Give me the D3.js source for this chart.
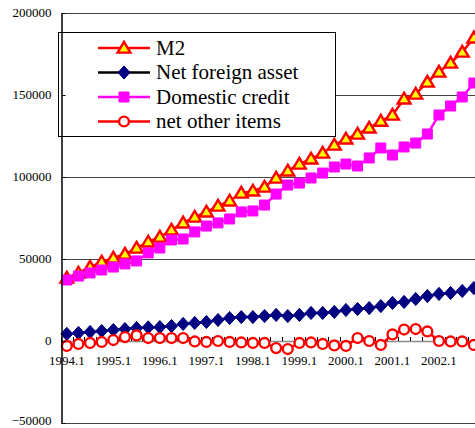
<!DOCTYPE html>
<html>
<head>
<meta charset="utf-8">
<script src="https://cdn.jsdelivr.net/npm/d3@7/dist/d3.min.js"></script>
<style>
  html, body { margin: 0; padding: 0; background: #fff; overflow: hidden; }
  svg { display: block; }
  svg text { font-family: "Liberation Serif", "DejaVu Serif", serif; }
</style>
</head>
<body>
<svg id="chart" width="475" height="428"></svg>
<script>
// Quarterly periods, 1994 Q1 to 2002 Q4
const quarters = [
  "1994.1","1994.2","1994.3","1994.4",
  "1995.1","1995.2","1995.3","1995.4",
  "1996.1","1996.2","1996.3","1996.4",
  "1997.1","1997.2","1997.3","1997.4",
  "1998.1","1998.2","1998.3","1998.4",
  "1999.1","1999.2","1999.3","1999.4",
  "2000.1","2000.2","2000.3","2000.4",
  "2001.1","2001.2","2001.3","2001.4",
  "2002.1","2002.2","2002.3","2002.4"
];

const m2 = [
  38400, 41500, 45100, 48200, 50600, 53000, 56700, 60400,
  63400, 67700, 72000, 75600, 78700, 82300, 85400, 90200,
  91500, 93900, 99400, 103700, 107900, 111000, 114600, 119500,
  123200, 126200, 129900, 134100, 137800, 147600, 150600, 157900,
  164000, 169500, 176200, 184800
];

const netForeignAsset = [
  4300, 4900, 5500, 6100, 6700, 7300, 7900, 8300,
  8500, 9100, 10400, 11000, 11600, 12800, 14000, 14600,
  14600, 15200, 15900, 15200, 15900, 17100, 17100, 17700,
  18900, 19500, 20100, 21300, 23200, 23800, 25600, 27400,
  28700, 29300, 30500, 32300
];

const domesticCredit = [
  37200, 39600, 41500, 43300, 45100, 47000, 48800, 53700,
  56700, 61600, 62200, 66500, 70100, 72000, 74400, 78700,
  79300, 82900, 89600, 95100, 96300, 99400, 102400, 106100,
  107900, 106700, 111600, 117700, 113400, 118300, 120700, 126200,
  137800, 143300, 148800, 157300
];

const netOtherItems = [
  -3000, -1800, -1200, -600, 600, 2400, 3400, 1800,
  1800, 1800, 1800, -300, -600, 0, -600, -900,
  -1200, -1200, -4300, -4900, -1200, -900, -1800, -2700,
  -3000, 1800, 0, -2400, 4000, 7000, 7300, 5800,
  0, -300, -300, -2400
];

const yTicks = [-50000, 0, 50000, 100000, 150000, 200000];
const xLabels = ["1994.1","1995.1","1996.1","1997.1","1998.1","1999.1","2000.1","2001.1","2002.1"];

const series = [
  { name: "M2", values: m2, line: "#ff0000", legendLine: "#ff0000", marker: "triangle" },
  { name: "Net foreign asset", values: netForeignAsset, line: "#000080", legendLine: "#000000", marker: "diamond" },
  { name: "Domestic credit", values: domesticCredit, line: "#ff00ff", legendLine: "#ff00ff", marker: "square" },
  { name: "net other items", values: netOtherItems, line: "#ff0000", legendLine: "#ff0000", marker: "circle" }
];

const svg = d3.select("#chart");
const plotLeft = 61, plotTop = 13, plotBottom = 423;
const step = 11.63;
const serif = "'Liberation Serif', 'DejaVu Serif', serif";

const x = d3.scaleBand().domain(quarters).range([plotLeft, plotLeft + quarters.length * step]).padding(0);
const cx = q => x(q) + x.bandwidth() / 2;
const y = d3.scaleLinear().domain([-50000, 200000]).range([plotBottom, plotTop]);

// horizontal gridlines (top one doubles as the frame)
svg.append("g").selectAll("line")
  .data(yTicks)
  .join("line")
  .attr("x1", plotLeft).attr("x2", 475)
  .attr("y1", d => Math.round(y(d)) + 0.5).attr("y2", d => Math.round(y(d)) + 0.5)
  .attr("stroke", d => d === 0 ? "#8c8c8c" : "#444")
  .attr("stroke-width", d => d === 0 ? 1.5 : 1);

// category ticks along the zero line
const boundaries = quarters.map(q => x(q));
svg.append("g").selectAll("line")
  .data(boundaries)
  .join("line")
  .attr("x1", d => Math.round(d) + 0.5).attr("x2", d => Math.round(d) + 0.5)
  .attr("y1", y(0) - 4).attr("y2", y(0))
  .attr("stroke", "#000").attr("stroke-width", 1);

// x labels on first quarters
svg.append("g").selectAll("text")
  .data(xLabels)
  .join("text")
  .attr("x", d => cx(d))
  .attr("y", y(0) + 24)
  .attr("text-anchor", "middle")
  .attr("font-size", 13)
  .style("font-family", serif)
  .text(d => d);

const markerPath = {
  triangle: "M0,-6.2L6.4,4.6L-6.4,4.6Z",
  diamond: "M0,-6.6L6,0L0,6.6L-6,0Z",
  square: "M-5,-5H5V5H-5Z",
  circle: d3.symbol().type(d3.symbolCircle).size(76)()
};

function drawMarker(g, kind, px, py) {
  const p = g.append("path").attr("d", markerPath[kind]).attr("transform", `translate(${px},${py})`);
  if (kind === "triangle") p.attr("fill", "#ffff00").attr("stroke", "#ff0000").attr("stroke-width", 2.4).attr("stroke-linejoin", "miter");
  if (kind === "diamond") p.attr("fill", "#000080").attr("stroke", "#000080").attr("stroke-width", 1);
  if (kind === "square") p.attr("fill", "#ff00ff").attr("stroke", "#ff00ff").attr("stroke-width", 1);
  if (kind === "circle") p.attr("fill", "#ffffff").attr("stroke", "#ff0000").attr("stroke-width", 2.4);
  return p;
}

const line = d3.line().x((d, i) => cx(quarters[i])).y(d => y(d));

series.forEach(s => {
  const g = svg.append("g");
  g.append("path").datum(s.values).attr("d", line)
    .attr("fill", "none").attr("stroke", s.line).attr("stroke-width", 2.5);
  s.values.forEach((v, i) => drawMarker(g, s.marker, cx(quarters[i]), y(v)));
});

// legend
const lg = svg.append("g");
lg.append("rect").attr("x", 58.5).attr("y", 32.5).attr("width", 277).attr("height", 104)
  .attr("fill", "#fff").attr("stroke", "#000").attr("stroke-width", 1);
const rowY = [48, 72.5, 97, 121.5];
series.forEach((s, i) => {
  const ry = rowY[i];
  lg.append("line").attr("x1", 98).attr("x2", 150).attr("y1", ry).attr("y2", ry)
    .attr("stroke", s.legendLine).attr("stroke-width", 2.5);
  drawMarker(lg, s.marker, 124, ry);
  lg.append("text").attr("x", 156).attr("y", ry + 6.5)
    .attr("font-size", 21).attr("fill", "#000")
    .style("font-family", serif).text(s.name);
});

// y axis on top, with short inside ticks
const yAxis = d3.axisLeft(y).tickValues(yTicks).tickSizeInner(-4).tickSizeOuter(0)
  .tickPadding(10).tickFormat(d3.format("d"));
const gy = svg.append("g").attr("transform", `translate(${plotLeft + 0.5},0)`).call(yAxis);
gy.attr("font-family", null).attr("font-size", null);
gy.select(".domain").attr("stroke", "#000").attr("stroke-width", 1.5);
gy.selectAll(".tick line").attr("stroke", "#000");
gy.selectAll("text").attr("font-size", 13).attr("fill", "#000")
  .style("font-family", serif)
  .attr("dy", d => d === yTicks[0] ? "0.1em" : "0.28em");
</script>
</body>
</html>
